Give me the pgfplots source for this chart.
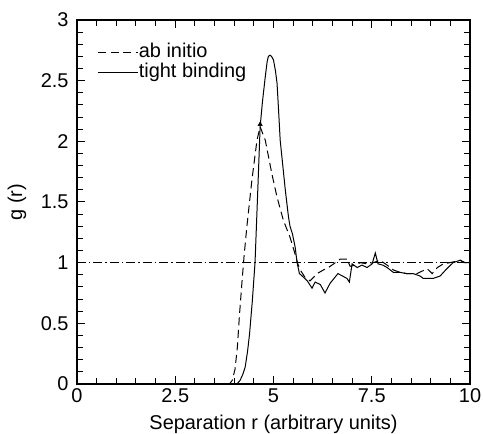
\documentclass[border=0pt]{standalone}
\usepackage{fontspec}
\setmainfont{Liberation Sans}
\usepackage{pgfplots}
\pgfplotsset{compat=1.18}

\begin{document}
\begin{tikzpicture}
\useasboundingbox (-77bp,-50bp) rectangle (406bp,384bp);
\begin{axis}[
    at={(0,0)}, anchor=south west,
    scale only axis,
    width=393bp, height=364bp,
    xmin=0, xmax=10,
    ymin=0, ymax=3,
    xtick={0,2.5,5,7.5,10},
    ytick={0,0.5,1,1.5,2,2.5,3},
    minor tick num=4,
    major tick length=8bp,
    minor tick length=6bp,
    axis line style={line width=1.2pt},
    every tick/.style={line width=1pt, black},
    /pgf/number format/assume math mode=true,
    tick label style={font=\fontsize{20}{24}\selectfont},
    xticklabel style={yshift=-1bp},
    yticklabel style={xshift=-5bp},
    xlabel={Separation r (arbitrary units)},
    ylabel={g (r)},
    every axis x label/.style={at={(axis description cs:0.5,-0.112)}, anchor=center,
        font=\fontsize{20}{24}\selectfont},
    every axis y label/.style={at={(axis description cs:-0.153,0.5)}, rotate=90, anchor=center,
        font=\fontsize{20}{24}\selectfont},
    legend style={draw=none, fill=none, at={(0.045,0.945)}, anchor=north west,
        font=\fontsize{20}{21}\selectfont, row sep=0bp,
        nodes={inner xsep=0pt, inner ysep=0pt, text height=15bp, text depth=5bp}},
    legend cell align=left,
    legend image code/.code={\draw[#1] (0bp,0bp) -- (40bp,0bp);},
]
\addplot[black, line width=1pt, dash pattern=on 8bp off 4.5bp] coordinates {
(0,0)(3.88,0)(3.95,0.03)(4.02,0.12)(4.08,0.3)(4.13,0.55)(4.2,0.85)(4.25,1.05)
(4.32,1.29)(4.45,1.68)(4.58,2.01)(4.66,2.12)(4.79,2.01)(4.96,1.73)(5.09,1.54)
(5.25,1.35)(5.42,1.21)(5.55,1.07)(5.62,0.99)(5.68,0.94)(5.8,0.88)(5.93,0.85)
(6.11,0.91)(6.27,0.94)(6.4,0.96)(6.53,0.99)(6.7,1.03)(6.87,1.03)(6.95,0.97)
(7.08,0.98)(7.21,1.0)(7.38,0.99)(7.54,1.0)(7.71,1.02)(7.89,0.98)(8.05,0.94)
(8.22,0.92)(8.39,0.91)(8.65,0.91)(8.91,0.95)(9.04,0.91)(9.17,0.96)(9.32,0.99)
(9.49,1.0)(9.62,1.01)(9.75,1.02)(9.88,1.0)(10,1.0)
};
\addlegendentry{ab initio}
\addplot[black, line width=1pt] coordinates {
(0,0)(4.07,0)(4.15,0.03)(4.22,0.08)(4.28,0.14)(4.34,0.27)(4.39,0.41)(4.46,0.68)
(4.53,1.0)(4.59,1.51)(4.66,2.12)(4.72,2.33)(4.79,2.53)(4.84,2.66)(4.87,2.70)
(4.91,2.71)(4.95,2.70)(5.0,2.67)(5.05,2.58)(5.09,2.48)(5.13,2.25)(5.17,2.01)
(5.3,1.6)(5.38,1.38)(5.42,1.3)(5.48,1.24)(5.55,1.13)(5.6,1.0)(5.66,0.91)
(5.73,0.89)(5.86,0.85)(5.98,0.79)(6.06,0.84)(6.19,0.82)(6.31,0.75)(6.44,0.83)
(6.64,0.91)(6.87,0.87)(6.93,0.84)(7.0,0.99)(7.13,0.96)(7.25,0.98)(7.38,0.96)
(7.51,0.99)(7.59,1.08)(7.66,0.99)(7.78,0.98)(7.89,0.96)(8.05,0.92)(8.22,0.92)
(8.39,0.91)(8.55,0.91)(8.73,0.89)(8.81,0.87)(9.06,0.87)(9.24,0.89)(9.41,0.95)
(9.57,1.0)(9.75,1.02)(9.85,1.0)(10,1.0)
};
\addlegendentry{tight binding}
\addplot[black, line width=0.8pt, dash pattern=on 9bp off 3bp on 1.5bp off 3bp, forget plot]
    coordinates {(0,1)(10,1)};
\addplot[black, only marks, mark=triangle*, mark size=2.5bp, forget plot]
    coordinates {(4.66,2.14)};
\end{axis}
\end{tikzpicture}
\end{document}
